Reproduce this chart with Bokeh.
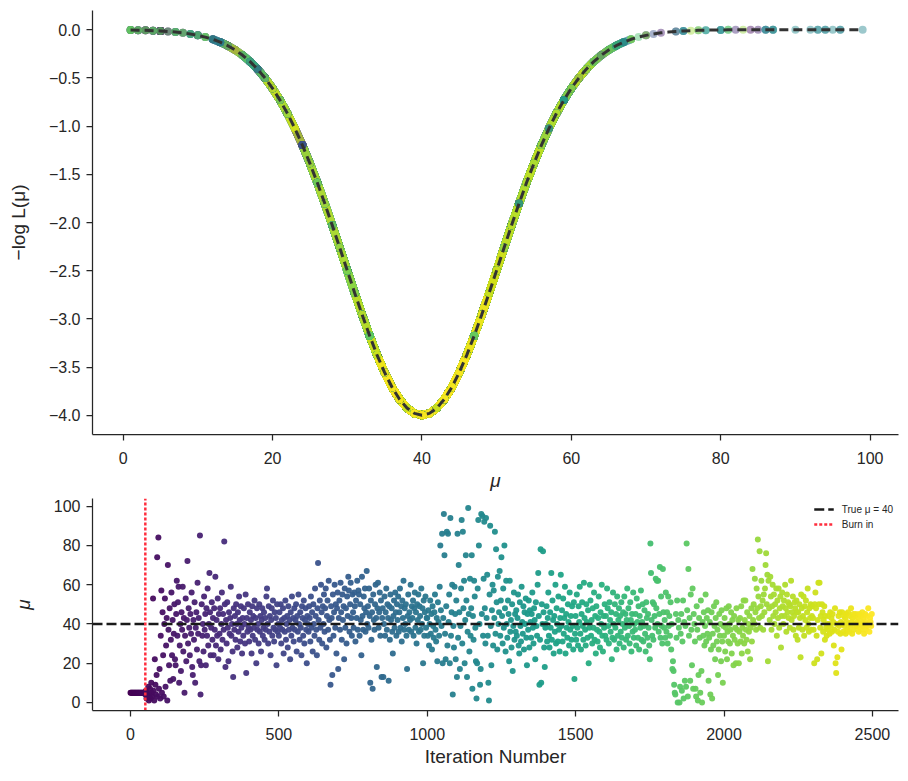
from bokeh.plotting import figure
from bokeh.layouts import column
from bokeh.models import (FixedTicker, Legend, LegendItem, ColumnDataSource, Range1d)
from bokeh.palettes import Viridis256
from bokeh.embed import file_html
from bokeh.resources import INLINE

# ---------------- data ----------------
TRUE_MU = 40
BURN_IN = 50
N_ITER = 2500
ITER_STEP = 2

mu_grid = list(range(1, 100))
nll_curve = [
    -0.003, -0.004, -0.006, -0.009, -0.012, -0.017, -0.024, -0.032, -0.043, -0.058,
    -0.076, -0.099, -0.129, -0.165, -0.210, -0.265, -0.331, -0.409, -0.501, -0.607,
    -0.730, -0.869, -1.025, -1.197, -1.386, -1.588, -1.804, -2.029, -2.262, -2.497,
    -2.731, -2.958, -3.175, -3.376, -3.556, -3.710, -3.834, -3.925, -3.981, -4.000,
    -3.981, -3.925, -3.834, -3.710, -3.556, -3.376, -3.175, -2.958, -2.731, -2.497,
    -2.262, -2.029, -1.804, -1.588, -1.386, -1.197, -1.025, -0.869, -0.730, -0.607,
    -0.501, -0.409, -0.331, -0.265, -0.210, -0.165, -0.129, -0.099, -0.076, -0.058,
    -0.043, -0.032, -0.024, -0.017, -0.012, -0.009, -0.006, -0.004, -0.003, -0.002,
    -0.001, -0.001, -0.001, 0.0, 0.0, 0.0, 0.0, 0.0, 0.0, 0.0,
    0.0, 0.0, 0.0, 0.0, 0.0, 0.0, 0.0, 0.0, 0.0,
]

# MCMC trace, one value every ITER_STEP iterations
trace_0000 = [
    5, 5, 5, 5, 5, 5, 5, 5, 5, 5, 5, 5, 5, 5, 5, 5, 5, 5, 5, 5, 5, 5, 5, 5, 5,
    4, 6, 2, 5, 3, 8, 1, 4, 7, 2, 10, 5, 3, 53, 6, 1, 22, 9, 4, 14, 74, 3, 84, 7, 17,
    2, 34, 57, 5, 46, 24, 3, 40, 53, 8, 29, 43, 1, 70, 37, 19, 48, 11, 32, 56, 24, 42, 12, 35, 50,
    22, 19, 45, 62, 34, 51, 59, 10, 29, 40, 16, 46, 37, 59, 26, 43, 5, 34, 53, 21, 42, 72, 30, 48, 38,
    24, 45, 35, 56, 18, 14, 42, 32, 51, 10, 38, 46, 27, 61, 35, 43, 21, 85, 4, 19, 50, 34, 40, 26, 54,
    37, 45, 19, 48, 34, 58, 29, 40, 66, 46, 24, 38, 51, 32, 43, 24, 48, 37, 64, 29, 42, 34, 53, 22, 45,
    35, 48, 27, 40, 56, 32, 45, 37, 82, 50, 18, 42, 30, 51, 38, 21, 46, 35, 43, 59, 34, 40, 26, 13, 48,
    37, 44, 32, 50, 40, 28, 46, 36, 54, 42, 31, 49, 38, 25, 43, 34, 48, 40, 30, 55, 15, 43, 36, 50, 38,
    31, 46, 37, 42, 25, 49, 34, 44, 38, 52, 32, 43, 20, 48, 37, 40, 30, 50, 36, 44, 26, 42, 48, 34, 38,
    46, 32, 43, 37, 54, 58, 40, 30, 49, 36, 44, 24, 42, 48, 34, 52, 38, 31, 46, 37, 43, 19, 50, 36, 40,
]
trace_0500 = [
    34, 46, 38, 50, 30, 42, 37, 48, 25, 43, 36, 52, 32, 40, 44, 28, 49, 37, 42, 22, 46, 34, 54, 38, 43,
    31, 48, 37, 42, 50, 26, 44, 36, 55, 40, 32, 46, 38, 24, 49, 43, 34, 52, 30, 42, 48, 37, 20, 44, 40,
    36, 49, 43, 31, 54, 38, 46, 26, 50, 40, 34, 58, 44, 37, 24, 48, 71, 42, 32, 52, 38, 60, 46, 30, 49,
    40, 55, 36, 48, 58, 28, 44, 52, 37, 62, 42, 32, 9, 49, 43, 14, 55, 34, 46, 60, 38, 50, 25, 48, 56,
    17, 43, 52, 37, 61, 46, 32, 55, 42, 49, 22, 58, 38, 48, 30, 54, 44, 64, 57, 36, 50, 61, 43, 34, 55,
    46, 38, 56, 49, 31, 52, 43, 62, 37, 57, 55, 34, 50, 42, 24, 64, 44, 37, 54, 48, 58, 36, 46, 67, 40,
    49, 38, 58, 44, 10, 52, 32, 46, 7, 55, 42, 37, 50, 60, 43, 18, 48, 61, 38, 46, 56, 34, 52, 13, 43,
    48, 13, 40, 54, 34, 46, 58, 37, 50, 43, 11, 49, 32, 55, 42, 48, 36, 25, 44, 52, 38, 56, 46, 34, 50,
    42, 54, 36, 46, 58, 38, 49, 31, 52, 43, 62, 37, 48, 40, 50, 34, 17, 44, 55, 37, 46, 42, 60, 36, 49,
    43, 52, 34, 48, 56, 38, 46, 30, 50, 42, 55, 36, 49, 44, 37, 58, 40, 48, 20, 52, 34, 46, 54, 38, 43,
]
trace_1000 = [
    43, 34, 47, 29, 40, 52, 35, 45, 27, 49, 39, 33, 46, 55, 37, 31, 43, 21, 51, 41, 34, 59, 80, 47, 39,
    86, 20, 43, 96, 75, 35, 22, 49, 87, 29, 86, 41, 55, 20, 94, 34, 46, 60, 4, 39, 28, 59, 45, 22, 52,
    13, 86, 33, 70, 46, 17, 39, 58, 93, 30, 87, 48, 62, 20, 42, 75, 52, 13, 36, 99, 45, 26, 63, 34, 48,
    75, 7, 44, 32, 62, 54, 38, 21, 2, 20, 58, 93, 80, 40, 9, 17, 96, 45, 95, 34, 63, 92, 48, 30, 94,
    43, 65, 34, 10, 1, 55, 90, 39, 19, 47, 60, 29, 57, 43, 87, 35, 78, 51, 27, 64, 40, 46, 67, 34, 52,
    74, 44, 30, 58, 38, 80, 48, 26, 62, 40, 33, 52, 45, 21, 62, 36, 42, 28, 50, 16, 39, 56, 32, 45, 36,
    47, 34, 43, 55, 29, 25, 51, 39, 31, 59, 41, 35, 49, 27, 46, 40, 53, 33, 19, 45, 37, 52, 28, 47, 41,
    33, 45, 56, 38, 30, 48, 42, 22, 51, 39, 34, 60, 66, 44, 9, 32, 78, 10, 50, 40, 77, 46, 28, 18, 38,
    40, 49, 31, 43, 56, 34, 28, 46, 38, 66, 32, 52, 42, 25, 44, 36, 60, 30, 48, 40, 31, 54, 37, 26, 43,
    65, 39, 47, 31, 53, 35, 43, 59, 25, 45, 38, 33, 50, 41, 29, 56, 37, 44, 32, 49, 39, 27, 51, 12, 35,
]
trace_1500 = [
    44, 32, 55, 38, 29, 49, 41, 59, 35, 27, 45, 51, 39, 32, 61, 43, 37, 29, 50, 41, 33, 47, 20, 38, 60,
    52, 34, 42, 30, 48, 38, 56, 32, 44, 25, 49, 37, 31, 43, 54, 36, 28, 46, 40, 60, 34, 26, 44, 38, 50,
    34, 44, 32, 58, 48, 39, 30, 51, 42, 36, 46, 22, 33, 56, 40, 32, 50, 38, 45, 27, 54, 34, 42, 48, 30,
    44, 36, 51, 33, 40, 46, 28, 54, 38, 45, 32, 42, 58, 34, 48, 39, 30, 51, 42, 26, 45, 36, 56, 33, 40,
    37, 45, 29, 53, 41, 33, 49, 27, 44, 38, 57, 32, 41, 50, 31, 39, 47, 35, 26, 51, 43, 33, 45, 38, 29,
    22, 81, 66, 42, 34, 51, 32, 50, 44, 38, 63, 48, 62, 40, 62, 36, 45, 69, 33, 54, 39, 30, 68, 46, 38,
    42, 33, 56, 36, 46, 30, 54, 39, 44, 34, 51, 27, 40, 17, 21, 16, 9, 5, 4, 45, 33, 52, 0, 42, 38,
    0, 8, 35, 45, 6, 31, 52, 2, 41, 11, 39, 8, 81, 47, 3, 68, 34, 43, 11, 55, 37, 19, 58, 7, 45,
    40, 31, 7, 3, 49, 37, 1, 14, 43, 33, 5, 52, 16, 0, 41, 34, 46, 29, 39, 55, 31, 43, 35, 47, 11,
    33, 41, 4, 27, 46, 2, 35, 29, 49, 39, 22, 43, 51, 31, 37, 14, 27, 45, 34, 40, 21, 47, 31, 10, 39,
]
trace_2000 = [
    34, 43, 26, 38, 48, 22, 36, 31, 49, 40, 30, 37, 46, 25, 42, 34, 19, 44, 32, 38, 20, 48, 37, 30, 42,
    20, 36, 43, 31, 49, 25, 38, 34, 52, 30, 42, 52, 37, 32, 46, 26, 40, 36, 44, 22, 38, 48, 31, 68, 42,
    50, 40, 63, 46, 37, 58, 48, 83, 54, 43, 77, 38, 49, 62, 44, 52, 37, 55, 46, 58, 70, 76, 50, 65, 21,
    62, 48, 42, 64, 54, 37, 49, 60, 44, 55, 40, 50, 46, 58, 34, 52, 43, 58, 38, 48, 54, 28, 44, 56, 49,
    40, 52, 44, 60, 48, 36, 55, 46, 51, 43, 50, 38, 49, 62, 42, 46, 54, 37, 44, 51, 48, 34, 52, 46, 32,
    46, 38, 50, 43, 23, 55, 48, 37, 44, 54, 34, 49, 42, 52, 38, 46, 58, 40, 36, 48, 43, 50, 37, 44, 49,
    43, 37, 20, 50, 56, 48, 34, 22, 42, 61, 50, 61, 38, 44, 25, 50, 46, 36, 42, 49, 32, 44, 38, 34, 40,
    37, 44, 40, 35, 46, 39, 43, 36, 45, 41, 29, 37, 48, 20, 15, 40, 23, 36, 44, 39, 46, 35, 41, 27, 46,
    40, 36, 44, 39, 43, 35, 45, 41, 37, 46, 40, 36, 44, 39, 48, 41, 35, 43, 45, 37, 40, 44, 45, 39, 41,
    39, 43, 36, 45, 40, 37, 44, 41, 46, 39, 43, 35, 40, 45, 37, 41, 44, 39, 48, 40, 36, 43, 41, 39, 45,
]

top_x_ticks = [0, 20, 40, 60, 80, 100]
top_y_ticks = [0.0, -0.5, -1.0, -1.5, -2.0, -2.5, -3.0, -3.5, -4.0]
top_y_labels = ["0.0", "\u22120.5", "\u22121.0", "\u22121.5", "\u22122.0", "\u22122.5", "\u22123.0", "\u22123.5", "\u22124.0"]
bot_x_ticks = [0, 500, 1000, 1500, 2000, 2500]
bot_y_ticks = [0, 20, 40, 60, 80, 100]

# axis limits (layout)
X1 = (-4.1, 103.8)
Y1 = (-4.2, 0.2)
X2 = (-128, 2588)
Y2 = (-4.1, 103.9)

# ---------------- derived ----------------
trace = trace_0000 + trace_0500 + trace_1000 + trace_1500 + trace_2000
iters = [ITER_STEP * i for i in range(len(trace))]


def vcol(it):
    return Viridis256[min(255, int(it / (N_ITER - 1) * 256))]


colors = [vcol(it) for it in iters]

# samples placed on the read likelihood curve (grid lookup)
dot_x, dot_y, dot_c = [], [], []
band_xs, band_ys, band_c = [], [], []
for it, v in zip(iters, trace):
    k = min(max(int(round(v)), mu_grid[0]), mu_grid[-1])
    j = mu_grid.index(k)
    dot_x.append(mu_grid[j])
    dot_y.append(nll_curve[j])
    dot_c.append(vcol(it))
    if nll_curve[j] < -0.1:
        lo, hi = max(j - 1, 0), min(j + 2, len(mu_grid))
        band_xs.append(mu_grid[lo:hi])
        band_ys.append(nll_curve[lo:hi])
        band_c.append(vcol(it))

TXT = "#262626"
FONT = "Liberation Sans"


def style(p):
    p.outline_line_color = None
    p.grid.visible = False
    p.background_fill_color = "white"
    p.border_fill_color = "white"
    for ax in p.axis:
        ax.axis_line_color = TXT
        ax.axis_line_width = 1.25
        ax.major_tick_line_color = TXT
        ax.major_tick_line_width = 1.25
        ax.major_tick_out = 6
        ax.major_tick_in = 0
        ax.minor_tick_line_color = None
        ax.major_label_text_font = FONT
        ax.major_label_text_font_size = "16px"
        ax.major_label_text_color = TXT
        ax.axis_label_text_font = FONT
        ax.axis_label_text_font_size = "19px"
        ax.axis_label_text_color = TXT
        ax.axis_label_text_font_style = "normal"


# ---------------- top panel ----------------
p1 = figure(width=908, height=498, output_backend="svg", toolbar_location=None,
            x_range=Range1d(*X1), y_range=Range1d(*Y1),
            min_border_left=92, min_border_right=10, min_border_top=10, min_border_bottom=64)
style(p1)
p1.multi_line(xs="xs", ys="ys", line_color="c", line_width=8, line_alpha=0.45,
              line_cap="round", line_join="round",
              source=ColumnDataSource(dict(xs=band_xs, ys=band_ys, c=band_c)))
p1.scatter(x="x", y="y", color="c", size=8, alpha=0.45, line_color=None,
           source=ColumnDataSource(dict(x=dot_x, y=dot_y, c=dot_c)))
p1.line(mu_grid, nll_curve, line_color="#333333", line_width=3, line_dash="9 5")
p1.xaxis.ticker = FixedTicker(ticks=top_x_ticks)
p1.yaxis.ticker = FixedTicker(ticks=top_y_ticks)
p1.yaxis.major_label_overrides = {t: l for t, l in zip(top_y_ticks, top_y_labels)}
p1.xaxis.axis_label = "\u03bc"
p1.xaxis.axis_label_text_font_style = "italic"
p1.yaxis.axis_label = "\u2212log L(\u03bc)"
p1.xaxis.major_label_standoff = 11
p1.yaxis.major_label_standoff = 6
p1.yaxis.axis_label_standoff = 17
p1.xaxis.axis_label_standoff = 3

# ---------------- bottom panel ----------------
p2 = figure(width=908, height=283, output_backend="svg", toolbar_location=None,
            x_range=Range1d(*X2), y_range=Range1d(*Y2),
            min_border_left=92, min_border_right=10, min_border_top=0, min_border_bottom=71)
style(p2)
p2.scatter(x="x", y="y", color="c", size=6, alpha=0.95, line_color=None,
           source=ColumnDataSource(dict(x=iters, y=trace, c=colors)))
r_true = p2.line(x=[X2[0], X2[1]], y=[TRUE_MU, TRUE_MU], line_color="#1a1a1a",
                 line_width=2.5, line_dash="10 4")
r_burn = p2.line(x=[BURN_IN, BURN_IN], y=[Y2[0], Y2[1]], line_color="#ff2d3d",
                 line_width=2.5, line_dash="3 2")
legend = Legend(items=[LegendItem(label="True \u03bc = 40", renderers=[r_true]),
                       LegendItem(label="Burn in", renderers=[r_burn])],
                location="top_right", border_line_color=None, background_fill_alpha=0,
                label_text_font=FONT, label_text_font_size="10px", label_text_color=TXT,
                glyph_width=20, glyph_height=12, label_standoff=8, spacing=3,
                padding=4, margin=5, label_height=12)
p2.add_layout(legend)
p2.xaxis.ticker = FixedTicker(ticks=bot_x_ticks)
p2.yaxis.ticker = FixedTicker(ticks=bot_y_ticks)
p2.xaxis.axis_label = "Iteration Number"
p2.yaxis.axis_label = "\u03bc"
p2.yaxis.axis_label_text_font_style = "italic"
p2.xaxis.major_label_standoff = 11
p2.yaxis.major_label_standoff = 6
p2.yaxis.axis_label_standoff = 17
p2.xaxis.axis_label_standoff = 3

layout = column(p1, p2, spacing=0)
open("out.html", "w").write(file_html(layout, INLINE))
